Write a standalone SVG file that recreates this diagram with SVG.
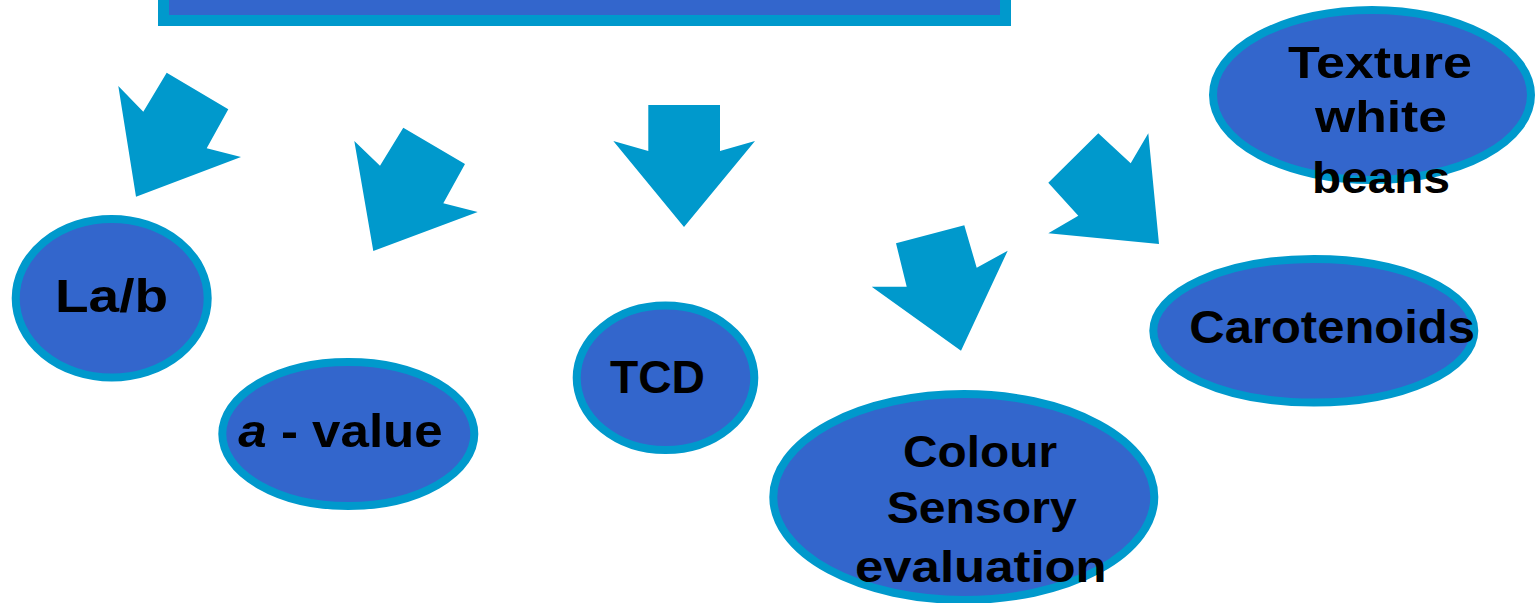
<svg xmlns="http://www.w3.org/2000/svg" width="1535" height="603" viewBox="0 0 1535 603">
<style>
.node{fill:#3366CC;stroke:#0099CC;stroke-width:8}
.arrow{fill:#0099CC}
.t{font-family:"Liberation Sans",Arial,sans-serif;font-weight:bold;font-size:45px;fill:#000}
.big{font-size:46px}
</style>
<rect width="1535" height="603" fill="#fff"/>
<g id="header">
<rect x="163.5" y="-50" width="842" height="70.5" fill="#3366CC" stroke="#0099CC" stroke-width="11"/>
</g>
<g id="connectors">
<polygon class="arrow" points="118.3,86 143.3,111.7 166.7,72.7 228.3,109.3 206.7,148.3 241,157 136,196.7"/>
<polygon class="arrow" points="354.3,141 380,165.7 403.3,127.7 465,164 443.3,203.3 477.7,212 373.3,251"/>
<polygon class="arrow" points="648.3,105 720,105 720,151 755,141 684,227 613.3,141 648.3,151"/>
<polygon class="arrow" points="896,243.3 964.3,225.3 976.7,267.7 1007.7,250.7 961,350.7 871.7,286.7 906.7,286.7"/>
<polygon class="arrow" points="1048.3,182.7 1098.3,133.3 1130.7,163.3 1148.3,133.3 1159,244 1048.3,233.3 1078.3,215.7"/>
</g>
<g id="texture">
<ellipse class="node" cx="1372" cy="95" rx="159" ry="85"/>
<text class="t" x="1288" y="78" textLength="184" lengthAdjust="spacingAndGlyphs">Texture</text>
<text class="t" x="1315" y="132" textLength="132" lengthAdjust="spacingAndGlyphs">white</text>
<text class="t" x="1312" y="193" textLength="138" lengthAdjust="spacingAndGlyphs">beans</text>
</g>
<g id="lab">
<ellipse class="node" cx="111.7" cy="298.3" rx="96" ry="79.3"/>
<text class="t big" x="55" y="311.7" textLength="113" lengthAdjust="spacingAndGlyphs">La/b</text>
</g>
<g id="avalue">
<ellipse class="node" cx="348.3" cy="434" rx="126" ry="72"/>
<text class="t big" x="238.3" y="446.7" textLength="204.4" lengthAdjust="spacingAndGlyphs"><tspan font-style="italic">a</tspan> - value</text>
</g>
<g id="tcd">
<ellipse class="node" cx="665.5" cy="377.8" rx="88.8" ry="72.2"/>
<text class="t big" x="610" y="393.3" textLength="95" lengthAdjust="spacingAndGlyphs">TCD</text>
</g>
<g id="carotenoids">
<ellipse class="node" cx="1313.8" cy="330.8" rx="160.5" ry="71.8"/>
<text class="t big" x="1189.3" y="343.3" textLength="285.7" lengthAdjust="spacingAndGlyphs">Carotenoids</text>
</g>
<g id="colour">
<ellipse class="node" cx="963.8" cy="497" rx="190.5" ry="103"/>
<text class="t" x="903" y="467" textLength="154" lengthAdjust="spacingAndGlyphs">Colour</text>
<text class="t" x="886.7" y="523.3" textLength="190" lengthAdjust="spacingAndGlyphs">Sensory</text>
<text class="t" x="855" y="581.7" textLength="251.7" lengthAdjust="spacingAndGlyphs">evaluation</text>
</g>
</svg>
